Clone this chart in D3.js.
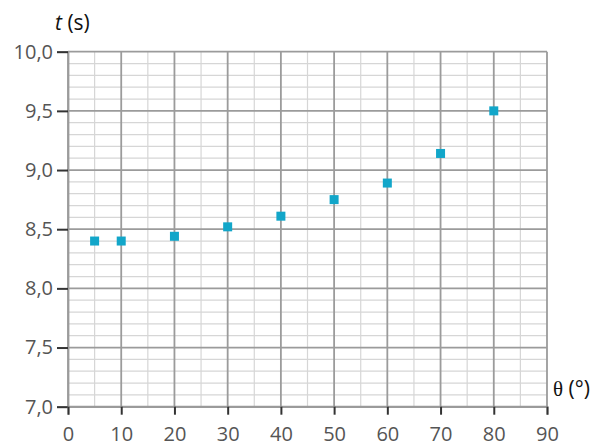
<!DOCTYPE html>
<html><head><meta charset="utf-8">
<script src="https://cdn.jsdelivr.net/npm/d3@7"></script>
<style>body{margin:0;background:#fff}svg{display:block}</style>
</head><body>
<script>
const angles = [5, 10, 20, 30, 40, 50, 60, 70, 80];
const times = [8.40, 8.40, 8.44, 8.52, 8.61, 8.75, 8.89, 9.14, 9.50];
const xTicks = [0, 10, 20, 30, 40, 50, 60, 70, 80, 90];
const yTicks = [7.0, 7.5, 8.0, 8.5, 9.0, 9.5, 10.0];
const xLabelSym = "θ";
const xLabelUnit = " (°)";
const yLabelT = "t";
const yLabelUnit = " (s)";

const W = 596, H = 443;
const svg = d3.select("body").append("svg").attr("width", W).attr("height", H);
const x = d3.scaleLinear().domain([0, 90]).range([68, 547]);
const y = d3.scaleLinear().domain([7, 10]).range([406.7, 51.7]);
const font = "'Open Sans', sans-serif";

// minor grid
const xMinor = d3.range(0, 91, 5).filter(v => v % 10 !== 0);
const yMinor = d3.range(70, 101, 1).map(v => v / 10).filter(v => Math.round(v * 10) % 5 !== 0);
const g = svg.append("g");
g.selectAll(".vm").data(xMinor).join("line")
  .attr("x1", d => x(d)).attr("x2", d => x(d)).attr("y1", y(7)).attr("y2", y(10))
  .attr("stroke", "#d6d6d6").attr("stroke-width", 1.2);
g.selectAll(".hm").data(yMinor).join("line")
  .attr("x1", x(0)).attr("x2", x(90)).attr("y1", d => y(d)).attr("y2", d => y(d))
  .attr("stroke", "#d6d6d6").attr("stroke-width", 1.2);
// major grid
g.selectAll(".vM").data(xTicks).join("line")
  .attr("x1", d => x(d)).attr("x2", d => x(d)).attr("y1", y(7)).attr("y2", y(10))
  .attr("stroke", "#9b9b9b").attr("stroke-width", 1.8);
g.selectAll(".hM").data(yTicks).join("line")
  .attr("x1", x(0)).attr("x2", x(90)).attr("y1", d => y(d)).attr("y2", d => y(d))
  .attr("stroke", "#9b9b9b").attr("stroke-width", 1.8);

// axes
const fmt = d => d3.format(".1f")(d).replace(".", ",");
const yAxis = svg.append("g").attr("transform", `translate(${x(0)},0)`)
  .call(d3.axisLeft(y).tickValues(yTicks).tickFormat(fmt).tickSize(11).tickPadding(4));
const xAxis = svg.append("g").attr("transform", `translate(0,${y(7)})`)
  .call(d3.axisBottom(x).tickValues(xTicks).tickSize(8).tickPadding(12));
[yAxis, xAxis].forEach(a => {
  a.select(".domain").attr("stroke", "#9b9b9b").attr("stroke-width", 1.8);
  a.selectAll(".tick line").attr("stroke", "#333").attr("stroke-width", 2);
  a.selectAll(".tick text").attr("fill", "#555").style("font-family", font).style("font-size", "20px");
});

// points
svg.selectAll(".pt").data(angles.map((a, i) => [a, times[i]])).join("rect")
  .attr("x", d => x(d[0]) - 4.5).attr("y", d => y(d[1]) - 4.5)
  .attr("width", 9).attr("height", 9).attr("fill", "#12a6c9");

// labels
const tl = svg.append("text").attr("x", 55).attr("y", 30).attr("fill", "#111")
  .style("font-family", font).style("font-size", "21px");
tl.append("tspan").attr("font-style", "italic").text(yLabelT);
tl.append("tspan").text(yLabelUnit);
const xl = svg.append("text").attr("x", 553).attr("y", 396).attr("fill", "#111")
  .style("font-size", "21px");
xl.append("tspan").style("font-family", "'Liberation Serif', serif").text(xLabelSym);
xl.append("tspan").style("font-family", font).text(xLabelUnit);
</script>
</body></html>
